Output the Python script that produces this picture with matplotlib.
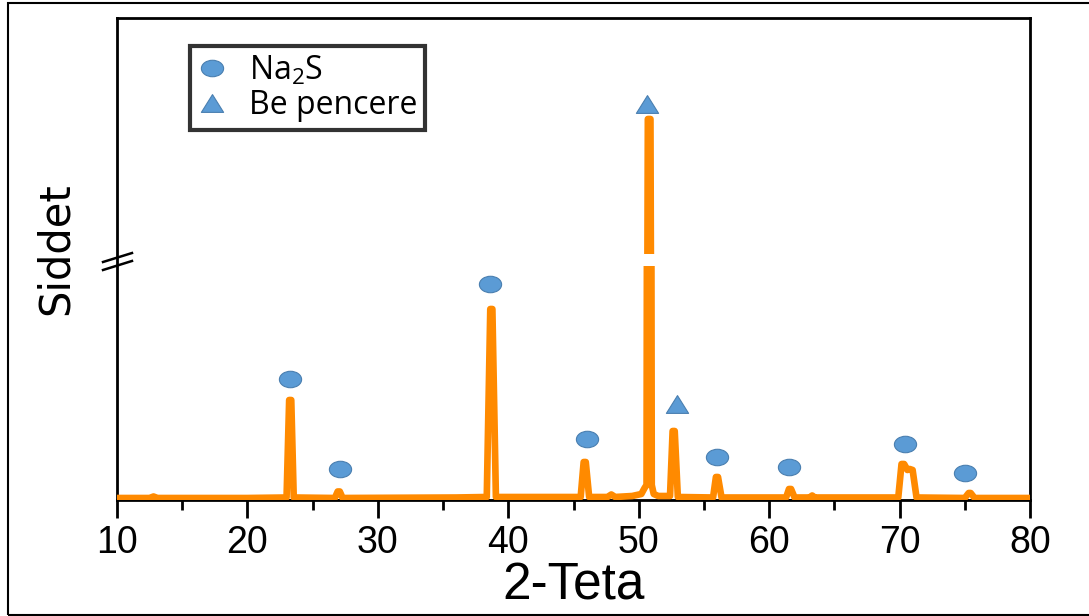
import numpy as np
import matplotlib.pyplot as plt
from matplotlib.lines import Line2D
from matplotlib.path import Path
from matplotlib.patches import Rectangle

# XRD pattern (2-theta in degrees, intensity in counts)
two_theta = [10, 12.5, 12.8, 13.1, 20, 23.0, 23.2, 23.36, 23.55,
             26.7, 26.92, 27.08, 27.3, 36, 38.35, 38.62, 38.78, 39.05,
             45.55, 45.78, 45.94, 46.2, 47.6, 47.9, 48.2, 49.5, 50.2,
             50.45, 50.6, 50.7, 50.9, 51.0, 51.15, 51.5, 52.4, 52.6,
             52.76, 53.0, 55.7, 55.92, 56.08, 56.35, 61.3, 61.52, 61.68,
             61.95, 63.1, 63.3, 63.5, 69.9, 70.15, 70.35, 70.6, 70.78,
             71.0, 71.3, 75.0, 75.3, 75.45, 75.75, 80]
intensity = [20, 20, 35, 20, 20, 25, 1000, 1000, 25,
             20, 85, 85, 20, 25, 30, 1910, 1910, 30,
             30, 380, 380, 30, 30, 55, 30, 40, 60,
             120, 150, 8700, 8700, 150, 60, 40, 40, 690,
             690, 30, 25, 230, 230, 25, 25, 110, 110,
             25, 25, 45, 25, 25, 360, 360, 300, 310,
             300, 25, 20, 70, 70, 20, 20]

# phase markers
na2s_x = [23.3, 27.1, 38.6, 46.0, 56.0, 61.5, 70.4, 75.0]
na2s_y = [1210, 310, 2160, 610, 430, 330, 560, 270]
be_x = [50.65, 52.9]
be_y = [9000, 960]

W, H = 1089, 616
fig = plt.figure(figsize=(W / 100, H / 100), dpi=100)


def fx(px):
    return px / W


def fy(py):
    return 1 - py / H


# outer frame of the picture
fig.add_artist(Rectangle((fx(8), fy(615)), 1.2, fy(2.5) - fy(615), transform=fig.transFigure,
                         fill=False, edgecolor='black', linewidth=1.5))

left, right = 117, 1030
frame = fig.add_axes([fx(left), fy(500), fx(right) - fx(left), fy(18) - fy(500)])
lower = fig.add_axes([fx(left), fy(500), fx(right) - fx(left), (500 - 266) / H])
upper = fig.add_axes([fx(left), fy(254), fx(right) - fx(left), (254 - 18) / H])

for s in frame.spines.values():
    s.set_linewidth(2)
frame.set_xticks([])
frame.set_yticks([])
frame.set_zorder(0)

ellipse = Path(Path.unit_circle().vertices * [1.35, 1.0], Path.unit_circle().codes)
tri = Path([(-1, -0.8), (1, -0.8), (0, 0.8), (-1, -0.8)],
           [Path.MOVETO, Path.LINETO, Path.LINETO, Path.CLOSEPOLY])
blue = '#5B9BD5'
edge = '#4A7FB0'
orange = '#FF8A00'

for ax, lim in [(lower, (0, 2340)), (upper, (6000, 10720))]:
    ax.set_facecolor('none')
    ax.set_zorder(1)
    ax.plot(two_theta, intensity, color=orange, linewidth=4.8,
            solid_joinstyle='round', solid_capstyle='round')
    ax.plot(na2s_x, na2s_y, linestyle='none', marker=ellipse, markersize=16,
            markerfacecolor=blue, markeredgecolor=edge, markeredgewidth=0.8)
    ax.plot(be_x, be_y, linestyle='none', marker=tri, markersize=16,
            markerfacecolor=blue, markeredgecolor=edge, markeredgewidth=0.8)
    ax.set_xlim(10, 80)
    ax.set_ylim(*lim)
    ax.set_yticks([])
    for s in ax.spines.values():
        s.set_visible(False)

upper.set_xticks([])
lower.set_xticks(np.arange(10, 81, 10))
lower.set_xticks(np.arange(15, 80, 10), minor=True)
lower.tick_params(axis='x', which='major', direction='out', length=13, width=2, pad=5,
                  labelsize=27, labelfontfamily='Liberation Sans')
lower.tick_params(axis='x', which='minor', direction='out', length=7, width=2)
lower.set_xlabel('2-Teta', fontsize=37, family='Liberation Sans', labelpad=0)

fig.text(fx(56), fy(249), 'Siddet', rotation=90, ha='center', va='center', fontsize=30,
         family=['Liberation Sans Narrow', 'DejaVu Sans'])

# axis break marks on the left spine
for y0, y1 in [(0.4938, 0.5124), (0.4772, 0.4959)]:
    frame.add_line(Line2D([-0.0153, 0.0164], [y0, y1], transform=frame.transAxes,
                          color='black', linewidth=1.8, clip_on=False))

plt.rcParams['mathtext.fontset'] = 'custom'
plt.rcParams['mathtext.rm'] = 'Open Sans'
handles = [
    Line2D([], [], linestyle='none', marker=ellipse, markersize=16,
           markerfacecolor=blue, markeredgecolor=edge, markeredgewidth=0.8),
    Line2D([], [], linestyle='none', marker=tri, markersize=16,
           markerfacecolor=blue, markeredgecolor=edge, markeredgewidth=0.8),
]
leg = fig.legend(handles, [r'Na$_\mathrm{2}$S', 'Be pencere'], loc='upper left',
                 bbox_to_anchor=(fx(190), fy(46)), frameon=True, fancybox=False,
                 prop={'family': 'Open Sans', 'size': 23}, handletextpad=0.7,
                 borderpad=0.25, labelspacing=0.05, handlelength=0.9, borderaxespad=0)
leg.get_frame().set_edgecolor('black')
leg.get_frame().set_linewidth(3)

fig.savefig('out.png', dpi=100)
